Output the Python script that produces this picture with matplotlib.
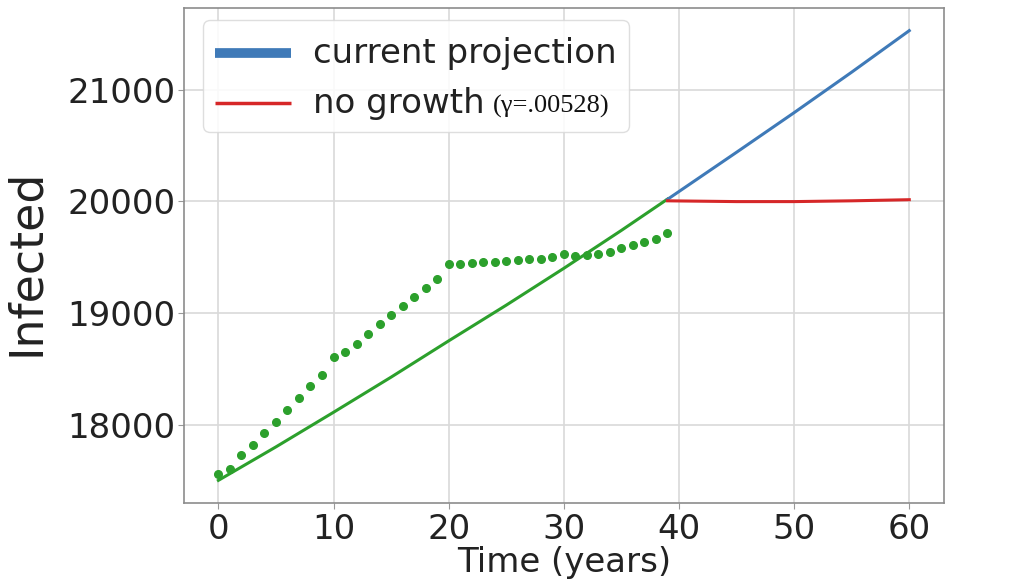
import matplotlib
matplotlib.use("Agg")
import matplotlib.pyplot as plt
from matplotlib.lines import Line2D
from matplotlib.offsetbox import (AnchoredOffsetbox, HPacker, VPacker,
                                  TextArea, DrawingArea)

# Observed data (dotted), one point per year
obs_years = list(range(0, 40))
obs_values = [17560, 17604, 17723, 17821, 17926, 18027, 18134, 18235, 18342, 18444,
              18607, 18646, 18720, 18810, 18899, 18979, 19063, 19143, 19220, 19301,
              19435, 19440, 19446, 19455, 19458, 19470, 19476, 19485, 19488, 19500,
              19524, 19509, 19515, 19524, 19545, 19583, 19607, 19637, 19667, 19717]

# Model fit (solid green)
fit_years = [0, 5, 10, 15, 20, 25, 30, 35, 39]
fit_values = [17500, 17800, 18110, 18425, 18750, 19070, 19400, 19740, 20020]

# Current projection (blue)
proj_years = [39, 45, 50, 55, 60]
proj_values = [20018, 20440, 20795, 21158, 21530]

# No growth (red)
nog_years = [39, 45, 50, 55, 60]
nog_values = [20005, 19998, 19998, 20005, 20015]

xticks = [0, 10, 20, 30, 40, 50, 60]
yticks = [18000, 19000, 20000, 21000]

legend_labels = ["current projection", "no growth"]
legend_note = "(γ=.00528)"

fig = plt.figure(figsize=(10.27, 5.82), dpi=100)
ax = fig.add_axes([0.179, 0.136, 0.740, 0.850])

green = "#2ca02c"
blue = "#3f7ab8"
red = "#d62728"
txtc = "#222222"

ax.plot(fit_years, fit_values, color=green, lw=2.2, zorder=3)
ax.plot(obs_years, obs_values, linestyle="none", marker="o", markersize=5.5,
        color=green, zorder=3)
ax.plot(proj_years, proj_values, color=blue, lw=2.2, zorder=3)
ax.plot(nog_years, nog_values, color=red, lw=2.2, zorder=3)

ax.set_xticks(xticks)
ax.set_yticks(yticks)
ax.tick_params(labelsize=24.5, colors="0.6", labelcolor=txtc, length=4)
ax.tick_params(axis="y", pad=2)
ax.grid(True, color="0.85", lw=1.2)
ax.set_axisbelow(True)
for s in ax.spines.values():
    s.set_color("0.55")
    s.set_linewidth(1.2)

ax.set_xlabel("Time (years)", fontsize=24.5, color=txtc, labelpad=0)
ax.set_ylabel("Infected", fontsize=33, color=txtc)
ax.yaxis.set_label_coords(-0.178, 0.486)

# custom legend
fs = 24.5
hw, hh = 55, 20


def handle(color, lw):
    da = DrawingArea(hw, hh, 0, 0)
    da.add_artist(Line2D([0, hw], [hh / 2, hh / 2], color=color, lw=lw,
                         solid_capstyle="butt"))
    return da


row1 = HPacker(children=[handle(blue, 7),
                         TextArea(legend_labels[0], textprops=dict(fontsize=fs, color=txtc))],
               align="center", pad=0, sep=16)
txt2 = HPacker(children=[TextArea(legend_labels[1], textprops=dict(fontsize=fs, color=txtc)),
                         TextArea(legend_note, textprops=dict(fontsize=19, color="#111111",
                                                              family="Liberation Serif"))],
               align="baseline", pad=0, sep=6)
row2 = HPacker(children=[handle(red, 2.5), txt2], align="center", pad=0, sep=16)
rows = VPacker(children=[row1, row2], align="left", pad=0, sep=12)
col = VPacker(children=[DrawingArea(1, 3.6, 0, 0), rows], align="left", pad=0, sep=0)

box = AnchoredOffsetbox(loc="upper left", child=col, pad=0.35, borderpad=0,
                        bbox_to_anchor=(0.025, 0.976), bbox_transform=ax.transAxes,
                        frameon=True, prop=dict(size=fs))
box.patch.set_boxstyle("round,pad=0,rounding_size=0.2")
box.patch.set_edgecolor("0.85")
box.patch.set_facecolor("white")
box.patch.set_alpha(0.85)
box.set_zorder(5)
ax.add_artist(box)

fig.savefig("out.png", dpi=100)
